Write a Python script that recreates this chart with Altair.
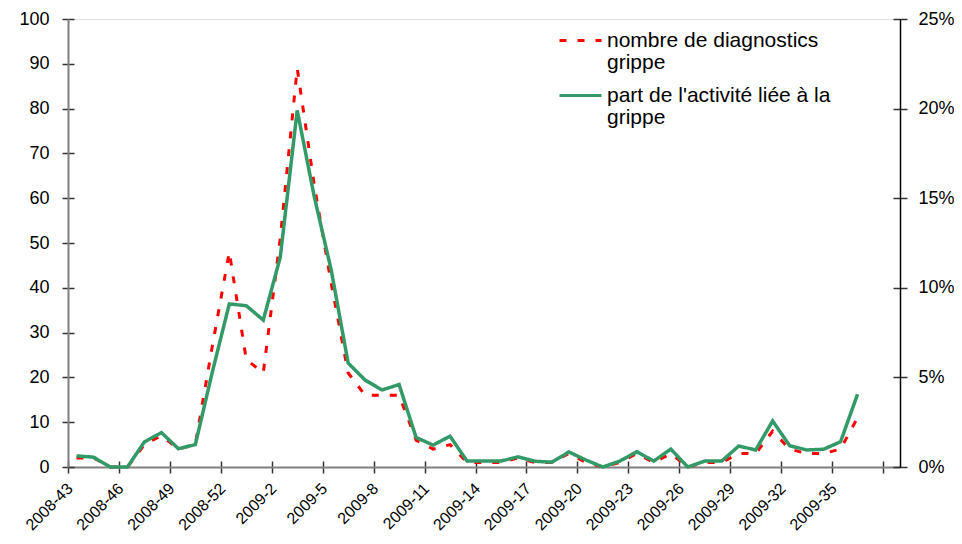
import json
import altair as alt
import pandas as pd

categories = [
    "2008-43", "2008-44", "2008-45", "2008-46", "2008-47", "2008-48", "2008-49",
    "2008-50", "2008-51", "2008-52", "2008-53", "2009-1", "2009-2", "2009-3",
    "2009-4", "2009-5", "2009-6", "2009-7", "2009-8", "2009-9", "2009-10",
    "2009-11", "2009-12", "2009-13", "2009-14", "2009-15", "2009-16", "2009-17",
    "2009-18", "2009-19", "2009-20", "2009-21", "2009-22", "2009-23", "2009-24",
    "2009-25", "2009-26", "2009-27", "2009-28", "2009-29", "2009-30", "2009-31",
    "2009-32", "2009-33", "2009-34", "2009-35", "2009-36", "2009-37", "2009-38",
]
tick_labels = [
    "2008-43", "2008-46", "2008-49", "2008-52", "2009-2", "2009-5", "2009-8",
    "2009-11", "2009-14", "2009-17", "2009-20", "2009-23", "2009-26", "2009-29",
    "2009-32", "2009-35", "",
]
diagnostics = [2, 2, 0, 0, 5, 7, 4, 5, 27, 48, 24, 21, 51, 89, 63, 41,
               21, 16, 16, 16, 6, 4, 5, 1, 1, 1, 2, 1, 1, 3, 1, 0,
               1, 3, 1, 3, 0, 1, 1, 3, 3, 8, 4, 3, 3, 4, 11]
share_pct = [0.62, 0.55, 0, 0, 1.4, 1.92, 1.02, 1.25, 5.3, 9.1, 9.0, 8.2, 11.7, 19.9, 15.1, 11.0,
             5.8, 4.85, 4.3, 4.6, 1.65, 1.22, 1.72, 0.33, 0.33, 0.33, 0.57, 0.32, 0.27, 0.84, 0.39, 0,
             0.33, 0.85, 0.33, 1.0, 0, 0.33, 0.33, 1.17, 0.95, 2.57, 1.19, 0.95, 0.99, 1.41, 4.06]
series = ["nombre de diagnostics grippe", "part de l'activité liée à la grippe"]
legend_lines = [["nombre de diagnostics", "grippe"], ["part de l'activité liée à la", "grippe"]]
left_ticks = [0, 10, 20, 30, 40, 50, 60, 70, 80, 90, 100]
right_ticks = [0, 0.05, 0.10, 0.15, 0.20, 0.25]

FONT = "Liberation Sans"
TICK = "#333333"

df_count = pd.DataFrame({
    "pos": [i + 0.5 for i in range(len(diagnostics))],
    "semaine": categories[:len(diagnostics)],
    "valeur": diagnostics,
    "serie": series[0],
})
df_share = pd.DataFrame({
    "pos": [i + 0.5 for i in range(len(share_pct))],
    "semaine": categories[:len(share_pct)],
    "valeur": [v / 100 for v in share_pct],
    "serie": series[1],
})

x_ticks = list(range(0, len(categories), 3))
x_label_expr = json.dumps(tick_labels) + "[datum.value / 3]"
x_scale = alt.Scale(domain=[0, len(categories)], nice=False, zero=False)
left_scale = alt.Scale(domain=[0, 100], nice=False)
right_scale = alt.Scale(domain=[0, 0.25], nice=False)

x_main = alt.X(
    "pos:Q", scale=x_scale,
    axis=alt.Axis(
        orient="bottom",
        values=x_ticks, labelExpr=x_label_expr, title=None, grid=False,
        labelAngle=-45, labelAlign="right", labelBaseline="top",
        labelOffset=-4, labelPadding=7, labelFontSize=16, labelFont=FONT,
        labelColor="#000000", labelOverlap=False, labelFlush=False, labelBound=False,
        tickSize=6, tickColor=TICK, tickWidth=1.5,
        domainColor="#808080", domainWidth=2,
    ),
)
x_none = alt.X("pos:Q", scale=x_scale, axis=None)

legend_expr = (
    "datum.label == " + json.dumps(series[0]) + " ? " + json.dumps(legend_lines[0])
    + " : " + json.dumps(legend_lines[1])
)
legend = alt.Legend(
    title=None, orient="none", legendX=490, legendY=-1,
    symbolType="stroke", symbolSize=1764, symbolStrokeWidth=3,
    labelFontSize=21, labelFont=FONT, labelColor="#000000", labelOffset=4,
    labelExpr=legend_expr, labelBaseline="middle", labelLimit=400,
    rowPadding=-1, padding=0,
)
color_scale = alt.Scale(domain=series, range=["#FF0000", "#339966"])
dash_scale = alt.Scale(domain=series, range=[[7, 11], [1, 0]])

line_count = alt.Chart(df_count).mark_line(strokeWidth=3, strokeCap="butt").encode(
    x=x_main,
    y=alt.Y("valeur:Q", scale=left_scale,
            axis=alt.Axis(orient="left", values=left_ticks, title=None, grid=False,
                          labelFontSize=18, labelFont=FONT, labelColor="#000000",
                          labelPadding=13, tickSize=6, tickColor=TICK, tickWidth=1.5,
                          domainColor="#808080", domainWidth=2)),
    color=alt.Color("serie:N", scale=color_scale, legend=legend),
    strokeDash=alt.StrokeDash("serie:N", scale=dash_scale, legend=legend),
)

line_share = alt.Chart(df_share).mark_line(strokeWidth=3.5, strokeCap="butt").encode(
    x=x_none,
    y=alt.Y("valeur:Q", scale=right_scale,
            axis=alt.Axis(orient="right", values=right_ticks, format=".0%", title=None, grid=False,
                          labelFontSize=18, labelFont=FONT, labelColor="#000000",
                          labelPadding=11, tickSize=7, tickColor=TICK, tickWidth=1.5,
                          domainColor="#000000", domainWidth=1.5)),
    color=alt.Color("serie:N", scale=color_scale, legend=legend),
    strokeDash=alt.StrokeDash("serie:N", scale=dash_scale, legend=legend),
)

# inner halves of the crossing tick marks (Excel "cross" ticks)
inner_ticks_left = alt.Chart(df_count).mark_line(opacity=0).encode(
    x=alt.X("pos:Q", scale=x_scale,
            axis=alt.Axis(orient="bottom", offset=-6, values=x_ticks, labels=False, domain=False,
                          grid=False, title=None, tickSize=6, tickColor=TICK, tickWidth=1.5)),
    y=alt.Y("valeur:Q", scale=left_scale,
            axis=alt.Axis(orient="left", offset=-6, values=left_ticks, labels=False, domain=False,
                          grid=False, title=None, tickSize=6, tickColor=TICK, tickWidth=1.5)),
)
inner_ticks_right = alt.Chart(df_share).mark_line(opacity=0).encode(
    x=x_none,
    y=alt.Y("valeur:Q", scale=right_scale,
            axis=alt.Axis(orient="right", offset=-7, values=right_ticks, labels=False, domain=False,
                          grid=False, title=None, tickSize=7, tickColor=TICK, tickWidth=1.5)),
)

chart = alt.layer(inner_ticks_left, inner_ticks_right, line_count, line_share).resolve_scale(
    x="independent", y="independent"
).properties(
    width=832, height=448,
    autosize=alt.AutoSizeParams(type="none"),
    padding={"left": 60, "top": 11, "right": 54, "bottom": 69},
).configure_view(stroke=None).configure(
    font=FONT, background="white", style={"guide-label": {"lineHeight": 22}}
)

chart.save("out.html", embed_options={"renderer": "svg", "actions": False})
